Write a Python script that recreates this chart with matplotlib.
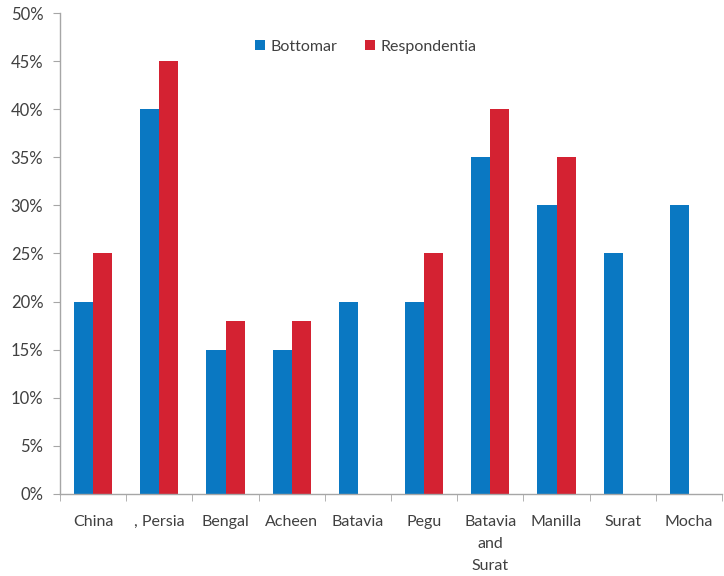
import matplotlib
matplotlib.use("Agg")
import matplotlib.pyplot as plt
import numpy as np
from matplotlib.ticker import PercentFormatter, FixedLocator

plt.rcParams['font.family'] = ['Lato', 'DejaVu Sans']

categories = ["China", ", Persia", "Bengal", "Acheen", "Batavia", "Pegu",
              "Batavia\nand\nSurat", "Manilla", "Surat", "Mocha"]
bottomar = [20, 40, 15, 15, 20, 20, 35, 30, 25, 30]
respondentia = [25, 45, 18, 18, None, 25, 40, 35, None, None]

blue = "#0A78C2"
red = "#D42232"
text_c = "#404040"
axis_c = "#A6A6A6"

fig = plt.figure(figsize=(7.24, 5.76), dpi=100)
ax = fig.add_axes([60/724, 82/576, 662/724, 481/576])

x = np.arange(len(categories))
w = 0.29
b_vals = [np.nan if v is None else v for v in bottomar]
r_vals = [np.nan if v is None else v for v in respondentia]
ax.bar(x - w/2, b_vals, width=w, color=blue, label="Bottomar")
ax.bar(x + w/2, r_vals, width=w, color=red, label="Respondentia")

ax.set_xlim(-0.5, len(categories) - 0.5)
ax.set_ylim(0, 50)
ax.yaxis.set_major_locator(FixedLocator(np.arange(0, 51, 5)))
ax.yaxis.set_major_formatter(PercentFormatter(decimals=0))

ax.set_xticks(x)
ax.set_xticklabels(categories, fontsize=11.5, color=text_c, linespacing=1.75)
ax.xaxis.set_minor_locator(FixedLocator(np.arange(-0.5, len(categories), 1)))
ax.tick_params(axis='x', which='major', length=0, pad=15)
ax.tick_params(axis='x', which='minor', length=5, color=axis_c, direction='out')
ax.tick_params(axis='y', length=5, color=axis_c, labelsize=12, labelcolor=text_c, pad=7)

for s in ['top', 'right']:
    ax.spines[s].set_visible(False)
for s in ['left', 'bottom']:
    ax.spines[s].set_color(axis_c)
    ax.spines[s].set_linewidth(1)

leg = ax.legend(loc='center', bbox_to_anchor=(0.462, 0.93), ncol=2, frameon=False,
                handlelength=0.65, handleheight=0.65, handletextpad=0.35,
                columnspacing=1.7, fontsize=11.5)
for t in leg.get_texts():
    t.set_color(text_c)

fig.savefig("out.png", dpi=100)
